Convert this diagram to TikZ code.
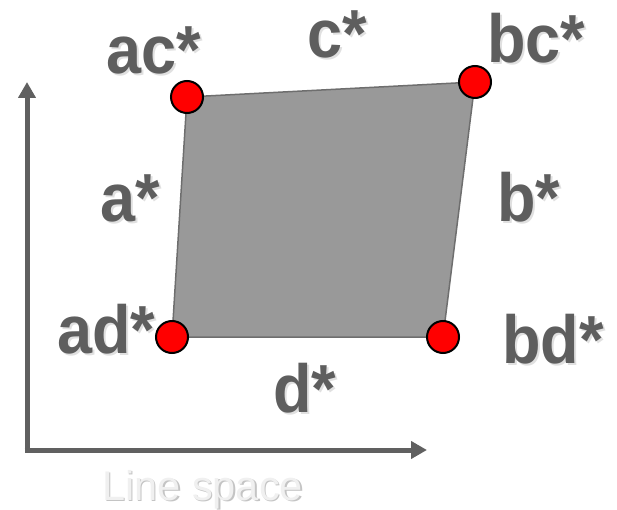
\documentclass[tikz,border=0pt]{standalone}
\usepackage{fontspec}
\usepackage{graphicx}
\setmainfont{Liberation Sans}
\usetikzlibrary{arrows.meta}
\definecolor{labelgray}{HTML}{5E5E5E}
\definecolor{shadowgray}{HTML}{E0E0E0}
\definecolor{axisgray}{HTML}{606060}
\definecolor{fillgray}{HTML}{999999}
\definecolor{edgegray}{HTML}{6E6E6E}
\definecolor{ltext}{HTML}{F0F0F0}
\definecolor{lshadow}{HTML}{C4C4C4}
\newcommand{\lbltxt}[1]{\scalebox{1}[1.08]{#1}}
\tikzset{
  lbl/.style={font=\fontsize{63}{63}\selectfont\bfseries, text=labelgray, inner sep=0pt, anchor=base west},
  lblshadow/.style={lbl, text=shadowgray},
  corner/.style={circle, fill=red, draw=black, line width=2pt, minimum size=32pt, inner sep=0pt},
  axis/.style={draw=axisgray, line width=5pt, -{Triangle[length=16pt,width=17pt]}},
  patch/.style={fill=fillgray, draw=edgegray, line width=1.5pt, line join=round}
}
\begin{document}
\begin{tikzpicture}[x=1pt,y=-1pt]
\useasboundingbox (0,0) rectangle (617,510);
% axes
\coordinate (origin) at (27,450);
\coordinate (ytip) at (27,82);
\coordinate (xtip) at (427,450);
\draw[axis] (27,452.5) -- (ytip);
\draw[axis] (24.5,450) -- (xtip);
% patch
\coordinate (pac) at (187,97);
\coordinate (pbc) at (475,82);
\coordinate (pbd) at (443,337);
\coordinate (pad) at (172,337);
\path[patch] (pac) -- (pbc) -- (pbd) -- (pad) -- cycle;
% corner dots
\node[corner] (ac) at (pac) {};
\node[corner] (bc) at (pbc) {};
\node[corner] (bd) at (pbd) {};
\node[corner] (ad) at (pad) {};
% label shadows
\node[lblshadow] (acS) at (108,76) {\lbltxt{ac*}};
\node[lblshadow] (cS) at (309,60) {\lbltxt{c*}};
\node[lblshadow] (bcS) at (489,65) {\lbltxt{bc*}};
\node[lblshadow] (aS) at (102,224) {\lbltxt{a*}};
\node[lblshadow] (bS) at (499,224) {\lbltxt{b*}};
\node[lblshadow] (adS) at (59,355) {\lbltxt{ad*}};
\node[lblshadow] (bdS) at (504,365) {\lbltxt{bd*}};
\node[lblshadow] (dS) at (275,414) {\lbltxt{d*}};
% labels
\node[lbl] (acL) at (106,74) {\lbltxt{ac*}};
\node[lbl] (cL) at (307,58) {\lbltxt{c*}};
\node[lbl] (bcL) at (487,63) {\lbltxt{bc*}};
\node[lbl] (aL) at (100,222) {\lbltxt{a*}};
\node[lbl] (bL) at (497,222) {\lbltxt{b*}};
\node[lbl] (adL) at (57,353) {\lbltxt{ad*}};
\node[lbl] (bdL) at (502,363) {\lbltxt{bd*}};
\node[lbl] (dL) at (273,412) {\lbltxt{d*}};
% axis label
\node[font=\fontsize{41.5}{41.5}\selectfont, text=lshadow, inner sep=0pt, anchor=base west] (lsS) at (103.5,501.5) {Line space};
\node[font=\fontsize{41.5}{41.5}\selectfont, text=ltext, inner sep=0pt, anchor=base west] (ls) at (102,500) {Line space};
\end{tikzpicture}
\end{document}
